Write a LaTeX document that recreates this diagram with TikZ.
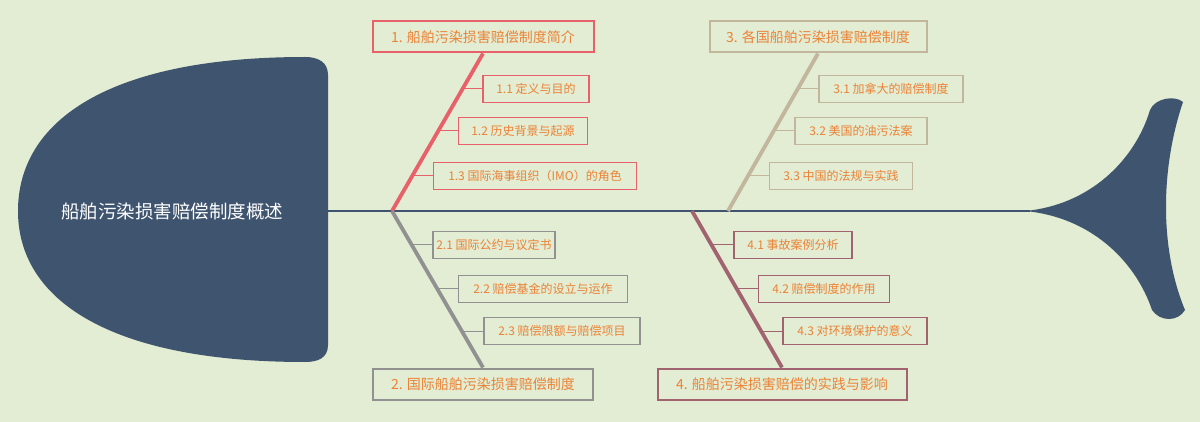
\documentclass[tikz,border=0pt]{standalone}
\usepackage{fontspec}
\newfontfamily\cjk{Noto Sans CJK SC}
\usetikzlibrary{calc}
\definecolor{bg}{HTML}{E2EDD3}
\definecolor{navy}{HTML}{3F556F}
\definecolor{cA}{HTML}{E8606A}
\definecolor{cB}{HTML}{919191}
\definecolor{cC}{HTML}{C2B69C}
\definecolor{cD}{HTML}{A0636F}
\definecolor{txt}{HTML}{EC8236}
\tikzset{
  mainbox/.style={draw=#1, line width=2pt, fill=bg, text=txt, font=\cjk\fontsize{14}{16}\selectfont, minimum height=31pt, inner xsep=0pt},
  subbox/.style={draw=#1, line width=1.8pt, fill=bg, text=txt, font=\cjk\fontsize{12}{14}\selectfont, minimum height=27pt, inner xsep=0pt},
  bone/.style={draw=#1, line width=3.8pt},
  twig/.style={draw=#1, line width=1pt}
}
\begin{document}
\begin{tikzpicture}[x=1pt,y=-1pt]
\fill[bg] (0,0) rectangle (1200,422);
\useasboundingbox (0,0) rectangle (1200,422);
% head
\fill[navy] (305,57) .. controls (318,57) and (328,62) .. (328,75) -- (328,345) .. controls (328,358) and (318,362) .. (305,362)
  .. controls (110,362) and (18,300) .. (18,211) .. controls (18,120) and (110,57) .. (305,57) -- cycle;
\node[text=white, font=\cjk\fontsize{18.5}{20}\selectfont] (head) at (172,211) {船舶污染损害赔偿制度概述};
% tail
\fill[navy] (1025,211) .. controls (1090,205) and (1135,160) .. (1150,110)
  .. controls (1155,98) and (1175,95) .. (1183,102)
  .. controls (1160,170) and (1160,250) .. (1185,310)
  .. controls (1178,322) and (1160,322) .. (1152,310)
  .. controls (1135,260) and (1090,217) .. (1025,211) -- cycle;
% spine
\coordinate (sL) at (326,211);
\coordinate (sR) at (1030,211);
\draw[navy, line width=1.6pt] (sL) -- (sR);
% main boxes
\node[mainbox=cA, minimum width=221pt] (m1) at (483,37) {1. 船舶污染损害赔偿制度简介};
\node[mainbox=cB, minimum width=220pt] (m2) at (483,384) {2. 国际船舶污染损害赔偿制度};
\node[mainbox=cC, minimum width=217pt] (m3) at (818,37) {3. 各国船舶污染损害赔偿制度};
\node[mainbox=cD, minimum width=249pt] (m4) at (782,384) {4. 船舶污染损害赔偿的实践与影响};
\coordinate (r1) at (392,211);
\coordinate (r2) at (392,211);
\coordinate (r3) at (728,211);
\coordinate (r4) at (692,211);
\draw[bone=cA] (r1) -- (m1.south);
\draw[bone=cB] (r2) -- (m2.north);
\draw[bone=cC] (r3) -- (m3.south);
\draw[bone=cD] (r4) -- (m4.north);
% sub boxes
\node[subbox=cA, minimum width=106pt] (a1) at (536,89) {1.1 定义与目的};
\node[subbox=cA, minimum width=129pt] (a2) at (523,131) {1.2 历史背景与起源};
\node[subbox=cA, minimum width=203pt] (a3) at (535,176) {1.3 国际海事组织（IMO）的角色};
\node[subbox=cB, minimum width=122pt] (b1) at (494,245) {2.1 国际公约与议定书};
\node[subbox=cB, minimum width=169pt] (b2) at (543,289) {2.2 赔偿基金的设立与运作};
\node[subbox=cB, minimum width=156pt] (b3) at (562,331) {2.3 赔偿限额与赔偿项目};
\node[subbox=cC, minimum width=144pt] (c1) at (891,89) {3.1 加拿大的赔偿制度};
\node[subbox=cC, minimum width=132pt] (c2) at (861,131) {3.2 美国的油污法案};
\node[subbox=cC, minimum width=143pt] (c3) at (841,176) {3.3 中国的法规与实践};
\node[subbox=cD, minimum width=118pt] (d1) at (793,245) {4.1 事故案例分析};
\node[subbox=cD, minimum width=131pt] (d2) at (824,289) {4.2 赔偿制度的作用};
\node[subbox=cD, minimum width=144pt] (d3) at (855,331) {4.3 对环境保护的意义};
% twigs
\foreach \n/\c/\x in {a1/cA/462,a2/cA/438,a3/cA/412,b1/cB/412,b2/cB/437,b3/cB/461,c1/cC/798,c2/cC/774,c3/cC/748,d1/cD/711,d2/cD/736,d3/cD/760}{
  \coordinate (t\n) at (\x,0);
  \draw[twig=\c, rounded corners=3pt] (t\n |- \n.west) -- (\n.west);
}
\end{tikzpicture}
\end{document}
